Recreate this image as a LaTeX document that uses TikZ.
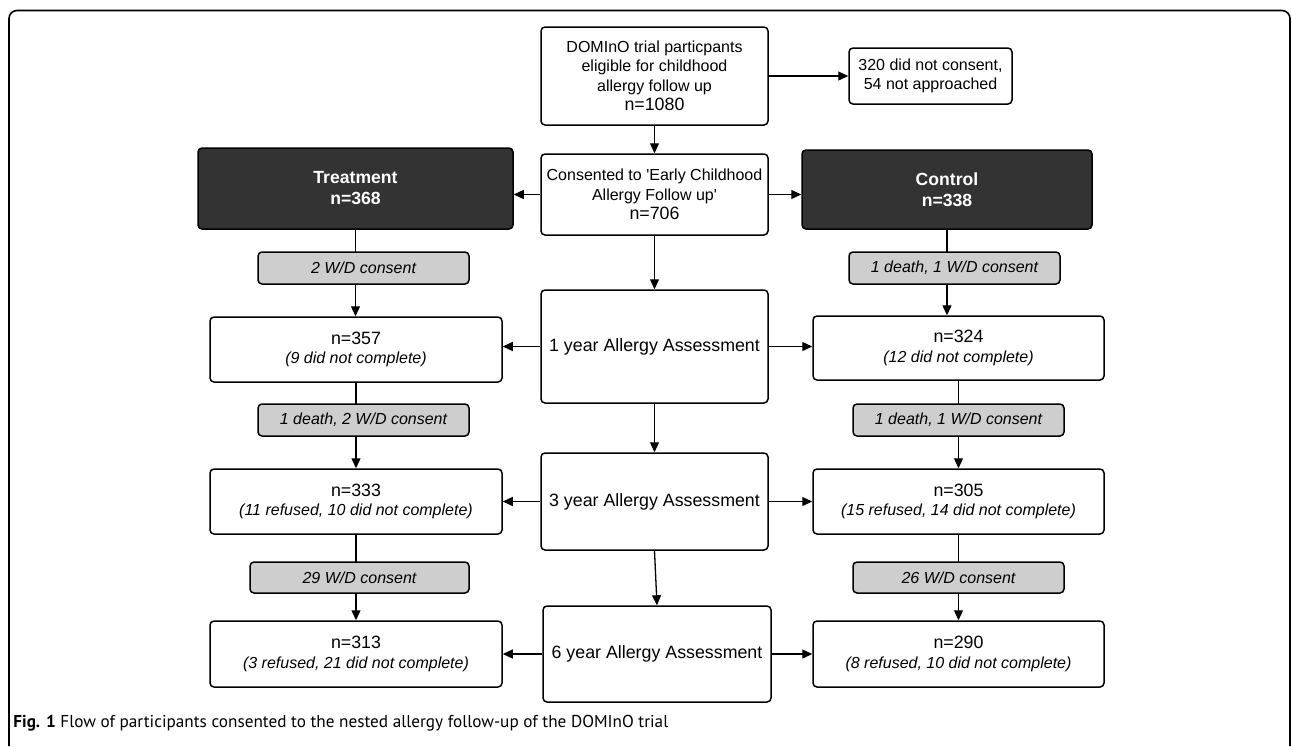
\documentclass[tikz,border=0pt]{standalone}
\usepackage{fontspec}
\setmainfont{Liberation Sans}
\newfontfamily\capfont{PT Sans}
\usetikzlibrary{arrows.meta}
\definecolor{darkfill}{RGB}{51,51,51}
\definecolor{greyfill}{RGB}{206,206,206}
\newcommand{\nbig}[1]{{\fontsize{8.9}{9.75}\selectfont #1}}
\tikzset{
  box/.style={draw, line width=0.75pt, rounded corners=2pt, fill=white, align=center, inner sep=0pt,
    font=\fontsize{8}{9.75}\selectfont},
  stagebox/.style={box, font=\fontsize{8.9}{10}\selectfont},
  darkbox/.style={box, fill=darkfill, text=white, font=\fontsize{8.8}{10.5}\selectfont\bfseries},
  greybox/.style={box, fill=greyfill, font=\fontsize{8}{9.75}\selectfont\itshape},
  arr/.style={line width=0.65pt, -{Triangle[length=5pt,width=4.5pt]}}
}
\begin{document}
\begin{tikzpicture}[x=0.5pt, y=-0.5pt]
            \useasboundingbox (0,0) rectangle (1292,746);
            % outer frame
            \draw[line width=0.8pt, rounded corners=4pt] (9,746) -- (9,10.5) -- (1290,10.5) -- (1290,746);

            % centre column
            \node[box, minimum width=113.5pt, minimum height=49pt] (elig) at (654.5,76) {DOMInO trial particpants\\eligible for childhood\\allergy follow up\\\nbig{n=1080}};
            \node[box, minimum width=81.5pt, minimum height=28pt] (excl) at (930.5,76) {320 did not consent,\\54 not approached};
            \node[box, minimum width=113.5pt, minimum height=40.5pt] (cons) at (654.5,194.5) {Consented to \textquotesingle Early Childhood\\Allergy Follow up\textquotesingle\\\nbig{n=706}};
            \node[stagebox, minimum width=113.5pt, minimum height=56.5pt] (yr1) at (654.5,346.5) {1 year Allergy Assessment};
            \node[stagebox, minimum width=113.5pt, minimum height=48.5pt] (yr3) at (654.5,501.5) {3 year Allergy Assessment};
            \node[stagebox, minimum width=114pt, minimum height=48pt] (yr6) at (657,654) {6 year Allergy Assessment};

            % treatment arm
            \node[darkbox, minimum width=157.5pt, minimum height=40.5pt] (treat) at (355.5,188.5) {Treatment\\n=368};
            \node[box, minimum width=146pt, minimum height=32.5pt] (tone) at (356,349.5) {\nbig{n=357}\\\textit{(9 did not complete)}};
            \node[box, minimum width=146pt, minimum height=32.5pt] (tthree) at (356,501.5) {\nbig{n=333}\\\textit{(11 refused, 10 did not complete)}};
            \node[box, minimum width=146pt, minimum height=33pt] (tsix) at (356,654) {\nbig{n=313}\\\textit{(3 refused, 21 did not complete)}};

            % control arm
            \node[darkbox, minimum width=145pt, minimum height=39.5pt] (ctrl) at (947,189.5) {Control\\n=338};
            \node[box, minimum width=145.5pt, minimum height=32pt] (cone) at (958.5,348) {\nbig{n=324}\\\textit{(12 did not complete)}};
            \node[box, minimum width=145.5pt, minimum height=32.5pt] (cthree) at (958.5,501.5) {\nbig{n=305}\\\textit{(15 refused, 14 did not complete)}};
            \node[box, minimum width=145.5pt, minimum height=33pt] (csix) at (958.5,654) {\nbig{n=290}\\\textit{(8 refused, 10 did not complete)}};

            % centre arrows
            \draw[arr] (elig.east) -- (excl.west);
            \draw[arr] (elig.south) -- (cons.north);
            \draw[arr] (cons.west) -- (cons.west -| treat.east);
            \draw[arr] (cons.east) -- (cons.east -| ctrl.west);
            \draw[arr] (cons.south) -- (yr1.north);
            \draw[arr] (yr1.south) -- (yr3.north);
            \draw[arr] (yr3.south) -- (yr6.north);
            \draw[arr] (yr1.west) -- (yr1.west -| tone.east);
            \draw[arr] (yr1.east) -- (yr1.east -| cone.west);
            \draw[arr] (yr3.west) -- (yr3.west -| tthree.east);
            \draw[arr] (yr3.east) -- (yr3.east -| cthree.west);
            \draw[arr] (yr6.west) -- (yr6.west -| tsix.east);
            \draw[arr] (yr6.east) -- (yr6.east -| csix.west);

            % arm lines, drawn before the grey loss boxes
            \draw[arr] (treat.south) -- (tone.north -| treat.south);
            \draw[arr] (tone.south) -- (tthree.north);
            \draw[arr] (tthree.south) -- (tsix.north);
            \draw[arr] (ctrl.south) -- (cone.north -| ctrl.south);
            \draw[arr] (cone.south) -- (cthree.north);
            \draw[arr] (cthree.south) -- (csix.north);

            % losses to follow up
            \node[greybox, minimum width=105.5pt, minimum height=16pt] (tlossa) at (363.5,268) {2 W/D consent};
            \node[greybox, minimum width=105.5pt, minimum height=16pt] (tlossb) at (363.5,420) {1 death, 2 W/D consent};
            \node[greybox, minimum width=109.5pt, minimum height=15.5pt] (tlossc) at (359.5,577.5) {29 W/D consent};
            \node[greybox, minimum width=105.5pt, minimum height=16pt] (clossa) at (954.5,268) {1 death, 1 W/D consent};
            \node[greybox, minimum width=105.5pt, minimum height=16pt] (clossb) at (958.5,420) {1 death, 1 W/D consent};
            \node[greybox, minimum width=105.5pt, minimum height=15.5pt] (clossc) at (958.5,577.5) {26 W/D consent};

            % caption
            \node[anchor=base west, inner sep=0pt, font=\capfont\fontsize{8.6}{11}\selectfont] (caption) at (13,727)
              {\textbf{Fig. 1} Flow of participants consented to the nested allergy follow-up of the DOMInO trial};
        \end{tikzpicture}
\end{document}
